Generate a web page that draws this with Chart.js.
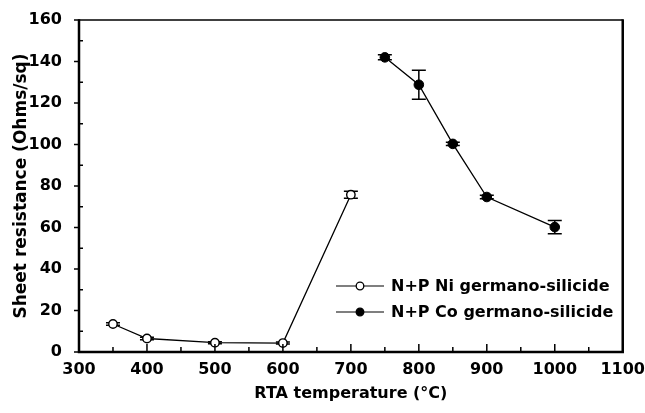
<!DOCTYPE html>
<html>
<head>
<meta charset="utf-8">
<script src="https://cdn.jsdelivr.net/npm/chart.js@4/dist/chart.umd.min.js"></script>
<style>
  html, body { margin: 0; padding: 0; background: #fff; }
  #wrap { width: 645px; height: 413px; position: relative; }
</style>
</head>
<body>
<div id="wrap"><canvas id="c"></canvas></div>
<script>
// readings from the figure
const niTemps = [350, 400, 500, 600, 700];
const niValues = [13.5, 6.5, 4.5, 4.3, 75.8];
const niErrors = [0.6, 0.6, 0.5, 0.5, 1.7];

const coTemps = [750, 800, 850, 900, 1000];
const coValues = [142, 128.8, 100.3, 74.7, 60.2];
const coErrors = [1.2, 7, 0.8, 0.9, 3.2];

const seriesNames = ['N+P Ni germano-silicide', 'N+P Co germano-silicide'];

const FONT = "'DejaVu Sans', Arial, sans-serif";

const toPoints = (xs, ys) => xs.map((x, i) => ({ x, y: ys[i] }));

// error bars, drawn before the points so the markers sit on top
const errorBars = {
  id: 'errorBars',
  beforeDatasetsDraw(chart) {
    const { ctx, scales: { x, y } } = chart;
    const sets = [[niTemps, niValues, niErrors], [coTemps, coValues, coErrors]];
    ctx.save();
    ctx.strokeStyle = '#000';
    ctx.lineWidth = 1.5;
    sets.forEach(([xs, ys, es]) => {
      xs.forEach((t, i) => {
        const px = x.getPixelForValue(t);
        const top = y.getPixelForValue(ys[i] + es[i]);
        const bot = y.getPixelForValue(ys[i] - es[i]);
        ctx.beginPath();
        ctx.moveTo(px, top); ctx.lineTo(px, bot);
        ctx.moveTo(px - 7, top); ctx.lineTo(px + 7, top);
        ctx.moveTo(px - 7, bot); ctx.lineTo(px + 7, bot);
        ctx.stroke();
      });
    });
    ctx.restore();
  }
};

// frame + inward/outward ticks like the original figure
const frame = {
  id: 'frame',
  afterDraw(chart) {
    const { ctx, chartArea: a, scales: { x, y } } = chart;
    ctx.save();
    ctx.strokeStyle = '#000';
    ctx.lineWidth = 1.5;
    ctx.beginPath();
    ctx.moveTo(a.left, a.top); ctx.lineTo(a.right, a.top);
    ctx.stroke();
    ctx.lineWidth = 2.5;
    ctx.beginPath();
    ctx.moveTo(a.left, a.top - 0.75); ctx.lineTo(a.left, a.bottom);
    ctx.lineTo(a.right, a.bottom); ctx.lineTo(a.right, a.top - 0.75);
    ctx.stroke();

    ctx.lineWidth = 1.5;
    ctx.beginPath();
    for (let v = 300; v <= 1100; v += 50) {
      const px = x.getPixelForValue(v);
      const len = v % 100 === 0 ? 8 : 5;
      ctx.moveTo(px, a.bottom); ctx.lineTo(px, a.bottom - len);
    }
    for (let v = 0; v <= 160; v += 10) {
      const py = y.getPixelForValue(v);
      if (v % 20 === 0) {
        ctx.moveTo(a.left, py); ctx.lineTo(a.left - 5, py);
      } else {
        ctx.moveTo(a.left, py); ctx.lineTo(a.left + 4, py);
      }
    }
    ctx.stroke();

    // legend inside the plot
    const rows = [
      { label: seriesNames[0], fill: '#fff', y: 286 },
      { label: seriesNames[1], fill: '#000', y: 312 }
    ];
    ctx.font = 'bold 16px ' + FONT;
    ctx.textBaseline = 'middle';
    ctx.fillStyle = '#000';
    rows.forEach(r => {
      ctx.lineWidth = 1.2;
      ctx.beginPath();
      ctx.moveTo(336, r.y); ctx.lineTo(384, r.y);
      ctx.stroke();
      ctx.beginPath();
      ctx.arc(360, r.y, 3.8, 0, Math.PI * 2);
      ctx.fillStyle = r.fill;
      ctx.fill();
      ctx.lineWidth = 1.3;
      ctx.stroke();
      ctx.fillStyle = '#000';
      ctx.fillText(r.label, 391, r.y + 1);
    });
    ctx.restore();
  }
};

new Chart(document.getElementById('c'), {
  type: 'line',
  data: {
    datasets: [
      {
        label: seriesNames[0],
        data: toPoints(niTemps, niValues),
        borderColor: '#000',
        borderWidth: 1.3,
        pointRadius: 4.2,
        pointBackgroundColor: '#fff',
        pointBorderColor: '#000',
        pointBorderWidth: 1.4
      },
      {
        label: seriesNames[1],
        data: toPoints(coTemps, coValues),
        borderColor: '#000',
        borderWidth: 1.3,
        pointRadius: 4.8,
        pointBackgroundColor: '#000',
        pointBorderColor: '#000',
        pointBorderWidth: 1
      }
    ]
  },
  options: {
    responsive: true,
    maintainAspectRatio: false,
    animation: false,
    layout: { padding: { top: 20, right: 21, left: 0, bottom: 0 } },
    plugins: {
      legend: { display: false },
      tooltip: { enabled: false }
    },
    scales: {
      x: {
        type: 'linear',
        min: 300,
        max: 1100,
        grid: { display: false },
        border: { display: false },
        ticks: {
          stepSize: 100,
          color: '#000',
          padding: 0,
          font: { family: FONT, size: 16, weight: 'bold' },
          callback: v => String(v)
        },
        title: {
          display: true,
          text: 'RTA temperature (°C)',
          color: '#000',
          padding: { top: 6, bottom: 10 },
          font: { family: FONT, size: 16, weight: 'bold' }
        },
        afterFit(scale) { scale.height = 61; }
      },
      y: {
        min: 0,
        max: 160,
        grid: { display: false },
        border: { display: false },
        ticks: {
          stepSize: 20,
          color: '#000',
          padding: 9,
          font: { family: FONT, size: 16, weight: 'bold' }
        },
        title: {
          display: true,
          text: 'Sheet resistance (Ohms/sq)',
          color: '#000',
          padding: { top: 11, bottom: 0 },
          font: { family: FONT, size: 17, weight: 'bold' }
        },
        afterFit(scale) { scale.width = 79; }
      }
    }
  },
  plugins: [errorBars, frame]
});
</script>
</body>
</html>
